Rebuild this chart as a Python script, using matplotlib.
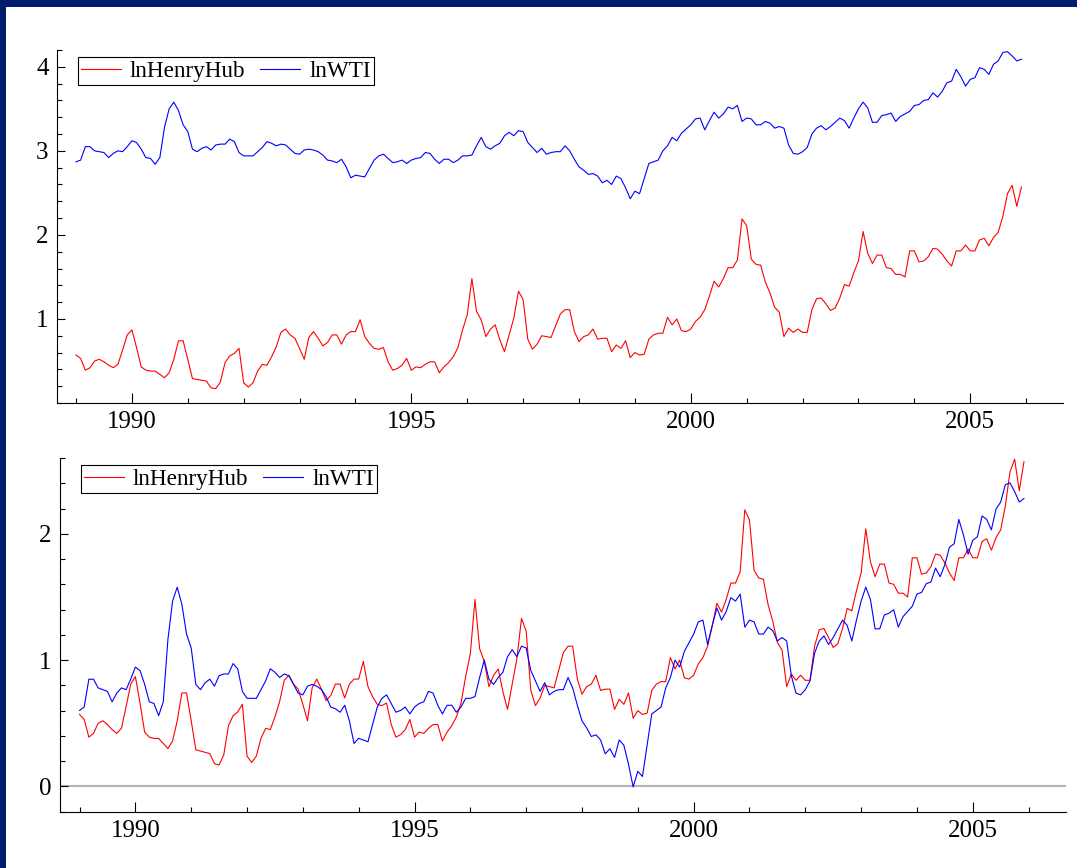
import numpy as np
import matplotlib
matplotlib.use('Agg')
import matplotlib.pyplot as plt
from matplotlib.patches import Rectangle
from matplotlib.ticker import MultipleLocator

# monthly data, Jan 1989 .. Dec 2005
start_year = 1989
ln_henry_hub = [
    0.57, 0.53, 0.39, 0.42, 0.50, 0.52, 0.49, 0.45, 0.42, 0.46, 0.63, 0.81,
    0.87, 0.66, 0.43, 0.39, 0.38, 0.38, 0.34, 0.30, 0.36, 0.52, 0.74, 0.74,
    0.52, 0.29, 0.28, 0.27, 0.26, 0.18, 0.17, 0.25, 0.48, 0.56, 0.59, 0.65,
    0.24, 0.19, 0.24, 0.38, 0.46, 0.45, 0.55, 0.67, 0.84, 0.88, 0.81, 0.77,
    0.65, 0.52, 0.78, 0.85, 0.77, 0.68, 0.72, 0.81, 0.81, 0.70, 0.81, 0.85,
    0.85, 0.99, 0.79, 0.71, 0.65, 0.64, 0.66, 0.49, 0.39, 0.41, 0.45, 0.53,
    0.39, 0.43, 0.42, 0.46, 0.49, 0.49, 0.36, 0.43, 0.48, 0.55, 0.66, 0.87,
    1.05, 1.48, 1.09, 0.99, 0.79, 0.88, 0.93, 0.75, 0.61, 0.81, 1.01, 1.33,
    1.23, 0.76, 0.64, 0.70, 0.80, 0.79, 0.78, 0.92, 1.06, 1.11, 1.11, 0.85,
    0.73, 0.79, 0.81, 0.88, 0.76, 0.77, 0.77, 0.61, 0.69, 0.65, 0.74, 0.54,
    0.60, 0.57, 0.58, 0.76, 0.81, 0.83, 0.83, 1.02, 0.93, 1.00, 0.86, 0.85,
    0.88, 0.97, 1.02, 1.11, 1.27, 1.45, 1.38, 1.48, 1.61, 1.61, 1.70, 2.19,
    2.11, 1.71, 1.65, 1.64, 1.44, 1.31, 1.14, 1.08, 0.79, 0.89, 0.84, 0.88,
    0.84, 0.84, 1.11, 1.24, 1.25, 1.18, 1.10, 1.13, 1.25, 1.41, 1.39, 1.55,
    1.69, 2.04, 1.78, 1.66, 1.76, 1.76, 1.61, 1.60, 1.53, 1.53, 1.50, 1.81,
    1.81, 1.68, 1.69, 1.74, 1.84, 1.83, 1.77, 1.69, 1.63, 1.81, 1.81, 1.88,
    1.81, 1.81, 1.94, 1.96, 1.87, 1.97, 2.03, 2.22, 2.49, 2.59, 2.34, 2.57,
]
ln_wti = [
    2.87, 2.89, 3.05, 3.05, 3.00, 2.99, 2.98, 2.92, 2.97, 3.00, 2.99, 3.05,
    3.12, 3.10, 3.02, 2.92, 2.91, 2.84, 2.92, 3.28, 3.50, 3.58, 3.48, 3.31,
    3.23, 3.02, 2.99, 3.03, 3.05, 3.01, 3.07, 3.08, 3.08, 3.14, 3.11, 2.98,
    2.94, 2.94, 2.94, 2.99, 3.04, 3.11, 3.09, 3.06, 3.08, 3.07, 3.02, 2.97,
    2.96, 3.01, 3.02, 3.01, 2.99, 2.95, 2.89, 2.88, 2.86, 2.90, 2.81, 2.68,
    2.71, 2.70, 2.69, 2.79, 2.89, 2.94, 2.96, 2.91, 2.86, 2.87, 2.89, 2.85,
    2.89, 2.91, 2.92, 2.98, 2.97, 2.90, 2.85, 2.90, 2.90, 2.86, 2.89, 2.94,
    2.94, 2.95, 3.06, 3.16, 3.05, 3.02, 3.06, 3.09, 3.18, 3.22, 3.18, 3.24,
    3.23, 3.10, 3.04, 2.98, 3.03, 2.96, 2.98, 2.99, 2.99, 3.06, 3.00, 2.90,
    2.81, 2.77, 2.72, 2.73, 2.70, 2.62, 2.65, 2.60, 2.70, 2.67, 2.56, 2.43,
    2.52, 2.49, 2.67, 2.85, 2.87, 2.89, 3.00, 3.06, 3.16, 3.12, 3.21, 3.26,
    3.31, 3.38, 3.39, 3.25, 3.36, 3.46, 3.39, 3.44, 3.52, 3.50, 3.54, 3.35,
    3.39, 3.38, 3.31, 3.31, 3.35, 3.33, 3.27, 3.29, 3.27, 3.07, 2.97, 2.96,
    2.99, 3.04, 3.20, 3.27, 3.30, 3.25, 3.29, 3.34, 3.39, 3.36, 3.27, 3.39,
    3.50, 3.58, 3.51, 3.34, 3.34, 3.42, 3.43, 3.45, 3.35, 3.41, 3.44, 3.47,
    3.54, 3.55, 3.60, 3.61, 3.69, 3.64, 3.71, 3.81, 3.83, 3.97, 3.88, 3.77,
    3.85, 3.87, 3.99, 3.97, 3.91, 4.03, 4.07, 4.17, 4.18, 4.13, 4.07, 4.09,
]
# lower panel: lnWTI rescaled to the HenryHub range
wti_scale = 1.375
wti_offset = -3.345

year_ticks = [1990, 1995, 2000, 2005]
labels = ['lnHenryHub', 'lnWTI']

t = start_year + np.arange(len(ln_henry_hub)) / 12.0
wti_scaled = wti_scale * np.array(ln_wti) + wti_offset

plt.rcParams['font.family'] = ['Liberation Serif', 'DejaVu Serif']
navy = '#001c6c'

fig = plt.figure(figsize=(10.77, 8.68), dpi=100, facecolor=navy)
# white drawing area inside the navy frame
bg = fig.add_axes([6 / 1077, 0, 1, (868 - 7) / 868], zorder=-10)
bg.set_facecolor('white')
bg.set_axis_off()
bg.add_patch(Rectangle((0, 0), 1, 1, transform=bg.transAxes, facecolor='white',
                       edgecolor='none'))

ax1 = fig.add_axes([57 / 1077, 465 / 868, 1006 / 1077, 353 / 868])
ax2 = fig.add_axes([60 / 1077, 56.3 / 868, 1006 / 1077, 353.7 / 868])


def style(ax, ylim, yticks, xlim):
    ax.set_facecolor('none')
    ax.set_xlim(*xlim)
    ax.set_ylim(*ylim)
    ax.set_xticks(year_ticks)
    ax.set_xticklabels([str(y) for y in year_ticks])
    ax.xaxis.set_minor_locator(MultipleLocator(1))
    ax.set_yticks(yticks)
    ax.yaxis.set_minor_locator(MultipleLocator(0.2))
    for s in ['top', 'right']:
        ax.spines[s].set_visible(False)
    for s in ['left', 'bottom']:
        ax.spines[s].set_linewidth(0.8)
    ax.tick_params(axis='x', which='major', direction='in', length=7.2, width=0.8,
                   labelsize=18, pad=6)
    ax.tick_params(axis='x', which='minor', direction='in', length=3.6, width=0.8)
    ax.tick_params(axis='y', which='major', direction='in', length=5.8, width=0.8,
                   labelsize=18, pad=6)
    ax.tick_params(axis='y', which='minor', direction='in', length=3.6, width=0.8)
    leg = ax.legend(loc='upper left', bbox_to_anchor=(0.0205, 0.98), ncol=2,
                    fontsize=16.7, frameon=True, fancybox=False, framealpha=1,
                    edgecolor='black', borderpad=0.15, handlelength=1.7,
                    handletextpad=0.4, columnspacing=0.65, borderaxespad=0)
    leg.get_frame().set_linewidth(0.8)


# top panel
ax1.plot(t, ln_henry_hub, color='red', lw=0.8, label=labels[0])
ax1.plot(t, ln_wti, color='blue', lw=0.8, label=labels[1])
style(ax1, (0, 4.2), [1, 2, 3, 4], (1988.66, 2006.66))

# bottom panel
ax2.axhline(0, color='#b4b4b4', lw=1.5, zorder=1)
ax2.plot(t, ln_henry_hub, color='red', lw=0.8, label=labels[0])
ax2.plot(t, wti_scaled, color='blue', lw=0.8, label=labels[1])
style(ax2, (-0.2, 2.6), [0, 1, 2], (1988.65, 2006.67))

fig.savefig('out.png', dpi=100, facecolor=navy)
